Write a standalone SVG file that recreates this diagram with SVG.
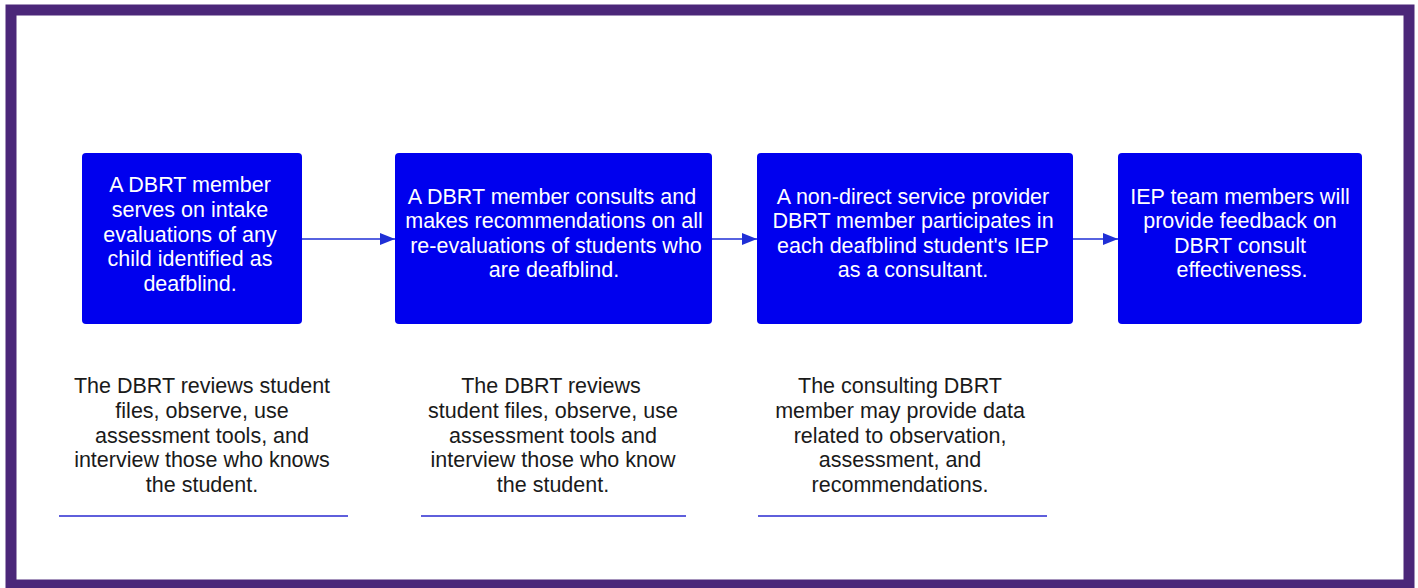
<svg xmlns="http://www.w3.org/2000/svg" width="1418" height="588" viewBox="0 0 1418 588">
<style>
.frame{fill:#fff;stroke:#4B2779;stroke-width:11}
.box{fill:#0000EE;stroke:none}
.bt{font-family:"Liberation Sans",Arial,sans-serif;font-size:21.5px;fill:#fff;text-anchor:middle}
.nt{font-family:"Liberation Sans",Arial,sans-serif;font-size:21.5px;fill:#1a1a1a;text-anchor:middle}
.conn{stroke:#1f2fd6;stroke-width:1.5;fill:none}
.ul{stroke:#2a2ad0;stroke-width:1.5}
</style>
<defs>
<marker id="ah" markerWidth="15" markerHeight="12" refX="15" refY="6" orient="auto" markerUnits="userSpaceOnUse">
<path d="M0,0 L15,6 L0,12 Z" fill="#1f2fd6"/>
</marker>
</defs>
<rect class="frame" x="11" y="10" width="1398" height="575"/>
<g id="connectors">
<line class="conn" x1="302" y1="239" x2="395" y2="239" marker-end="url(#ah)"/>
<line class="conn" x1="712" y1="239" x2="757" y2="239" marker-end="url(#ah)"/>
<line class="conn" x1="1073" y1="239" x2="1118" y2="239" marker-end="url(#ah)"/>
</g>
<g id="node1">
<rect class="box" x="82" y="153" width="220" height="171" rx="4"/>
<text class="bt" x="190" y="192">A DBRT member</text>
<text class="bt" x="190" y="216.5">serves on intake</text>
<text class="bt" x="190" y="241.5">evaluations of any</text>
<text class="bt" x="190" y="266">child identified as</text>
<text class="bt" x="190" y="291">deafblind.</text>
</g>
<g id="node2">
<rect class="box" x="395" y="153" width="317" height="171" rx="4"/>
<text class="bt" x="552" y="203.5">A DBRT member consults and</text>
<text class="bt" x="554" y="228">makes recommendations on all</text>
<text class="bt" x="556" y="252.5">re-evaluations of students who</text>
<text class="bt" x="554" y="277">are deafblind.</text>
</g>
<g id="node3">
<rect class="box" x="757" y="153" width="316" height="171" rx="4"/>
<text class="bt" x="913" y="203.5">A non-direct service provider</text>
<text class="bt" x="913" y="228">DBRT member participates in</text>
<text class="bt" x="913" y="252.5">each deafblind student's IEP</text>
<text class="bt" x="913" y="277">as a consultant.</text>
</g>
<g id="node4">
<rect class="box" x="1118" y="153" width="244" height="171" rx="4"/>
<text class="bt" x="1240" y="203.5">IEP team members will</text>
<text class="bt" x="1240" y="228">provide feedback on</text>
<text class="bt" x="1240" y="252.5">DBRT consult</text>
<text class="bt" x="1242" y="277">effectiveness.</text>
</g>
<g id="note1">
<text class="nt" x="202" y="393">The DBRT reviews student</text>
<text class="nt" x="202" y="418">files, observe, use</text>
<text class="nt" x="202" y="442.5">assessment tools, and</text>
<text class="nt" x="202" y="467">interview those who knows</text>
<text class="nt" x="202" y="492">the student.</text>
<line class="ul" x1="59" y1="516" x2="348" y2="516"/>
</g>
<g id="note2">
<text class="nt" x="551" y="393">The DBRT reviews</text>
<text class="nt" x="553" y="418">student files, observe, use</text>
<text class="nt" x="553" y="442.5">assessment tools and</text>
<text class="nt" x="553" y="467">interview those who know</text>
<text class="nt" x="553" y="492">the student.</text>
<line class="ul" x1="421" y1="516" x2="686" y2="516"/>
</g>
<g id="note3">
<text class="nt" x="900" y="393">The consulting DBRT</text>
<text class="nt" x="900" y="418">member may provide data</text>
<text class="nt" x="900" y="442.5">related to observation,</text>
<text class="nt" x="900" y="467">assessment, and</text>
<text class="nt" x="900" y="492">recommendations.</text>
<line class="ul" x1="758" y1="516" x2="1047" y2="516"/>
</g>
</svg>
